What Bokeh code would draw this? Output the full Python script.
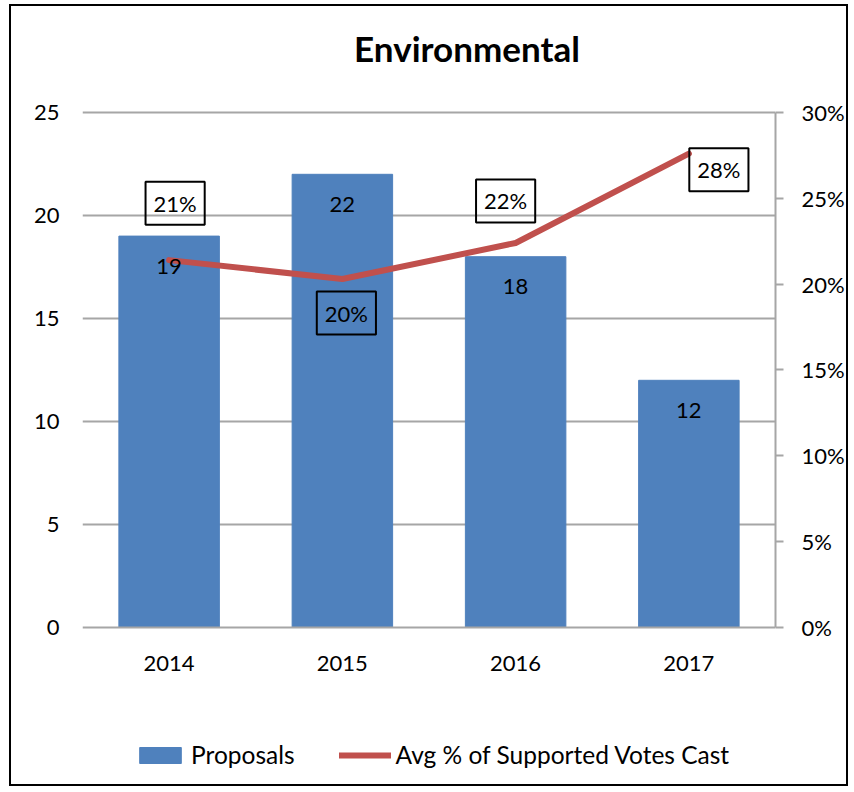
from bokeh.plotting import figure
from bokeh.models import (ColumnDataSource, LinearAxis, Range1d, LabelSet, Label, Legend,
                          LegendItem, FactorRange, NumeralTickFormatter, FixedTicker)
from bokeh.embed import file_html
from bokeh.resources import INLINE
from bokeh.core.properties import value

title_text = "Environmental"
years = ["2014", "2015", "2016", "2017"]
proposals = [19, 22, 18, 12]
avg_support = [0.214, 0.203, 0.224, 0.276]
avg_labels = ["21%", "20%", "22%", "28%"]
left_ticks = [0, 5, 10, 15, 20, 25]
right_ticks = [0, 0.05, 0.10, 0.15, 0.20, 0.25, 0.30]

FONT = "Lato"
BLUE = "#4F81BD"
RED = "#C0504D"
GRID = "#A6A6A6"

src = ColumnDataSource(dict(
    years=years, proposals=proposals, avg=avg_support,
    prop_lbl=[str(v) for v in proposals],
))
label_dx = [6, 4, -10, 30]
label_dy = [57, -34, 42, -16]

# The frame extends above the axis maximum (title) and below zero (legend)
Y_MAX = 25
PCT_MAX = 0.30
Y_HIGH = 29.66
Y_LOW = -7.33
SCALE = PCT_MAX / Y_MAX
TITLE_Y = 28.107

x_range = FactorRange(*years, range_padding=0)
p = figure(width=839, height=782, x_range=x_range,
           y_range=Range1d(Y_LOW, Y_HIGH), output_backend="svg", toolbar_location=None,
           min_border_left=71, min_border_right=75, min_border_top=10,
           min_border_bottom=10)
p.styles = {"border": "2px solid black", "margin-left": "9px", "margin-top": "4px"}
p.outline_line_color = None
p.background_fill_color = "white"

p.extra_y_ranges = {"pct": Range1d(Y_LOW * SCALE, Y_HIGH * SCALE)}

bars = p.vbar(x="years", top="proposals", width=0.58, source=src, color=BLUE)
line = p.line(x="years", y="avg", source=src, y_range_name="pct",
              line_color=RED, line_width=6, line_cap="round", line_join="round")

p.yaxis.ticker = FixedTicker(ticks=left_ticks)
p.yaxis.axis_line_color = None
p.yaxis.major_tick_line_color = None
p.yaxis.major_tick_out = 0
p.yaxis.major_tick_in = 0
p.yaxis.minor_tick_line_color = None
p.yaxis.major_label_standoff = 23
p.yaxis.major_label_text_font = FONT
p.yaxis.major_label_text_font_size = "22px"
p.yaxis.major_label_text_color = "black"

p.xaxis.fixed_location = 0
p.xaxis.axis_line_color = GRID
p.xaxis.axis_line_width = 2
p.xaxis.major_tick_line_color = None
p.xaxis.major_tick_out = 0
p.xaxis.major_tick_in = 0
p.xaxis.minor_tick_line_color = None
p.xaxis.major_label_standoff = 28
p.xaxis.major_label_text_font = FONT
p.xaxis.major_label_text_font_size = "22px"
p.xaxis.major_label_text_color = "black"

raxis = LinearAxis(y_range_name="pct", ticker=FixedTicker(ticks=right_ticks),
                   formatter=NumeralTickFormatter(format="0%"), bounds=(0, PCT_MAX))
raxis.axis_line_color = GRID
raxis.axis_line_width = 2
raxis.major_tick_line_color = GRID
raxis.major_tick_line_width = 2
raxis.major_tick_out = 8
raxis.major_tick_in = 0
raxis.minor_tick_line_color = None
raxis.major_label_standoff = 18
raxis.major_label_text_font = FONT
raxis.major_label_text_font_size = "22px"
raxis.major_label_text_color = "black"
p.add_layout(raxis, "right")

p.xgrid.grid_line_color = None
p.ygrid.grid_line_color = GRID
p.ygrid.grid_line_width = 2
p.ygrid.ticker = FixedTicker(ticks=left_ticks[1:])

# Chart title (x = 2.0 is the middle of the four categories)
title = Label(x=len(years) / 2, y=TITLE_Y, x_offset=38, text=title_text,
              text_align="center", text_baseline="middle", text_font=FONT,
              text_font_size="35px", text_font_style="bold", text_color="black")
p.add_layout(title)

bar_labels = LabelSet(x="years", y="proposals", text="prop_lbl", source=src,
                      y_offset=-30, text_align="center", text_baseline="middle",
                      text_font=value(FONT), text_font_size="22px", text_color="black")
p.add_layout(bar_labels)

# Synthetic categorical coordinate: factor i sits at i + 0.5
for i, (v, txt, dx, dy) in enumerate(zip(avg_support, avg_labels, label_dx, label_dy)):
    lab = Label(x=i + 0.5, y=v, text=txt, y_range_name="pct", x_offset=dx, y_offset=dy,
                text_align="center", text_baseline="middle", text_font=FONT,
                text_font_size="22px", text_color="black",
                border_line_color="black", border_line_width=2,
                background_fill_color=None, padding=8)
    p.add_layout(lab)

legend = Legend(items=[LegendItem(label="Proposals", renderers=[bars]),
                       LegendItem(label="Avg % of Supported Votes Cast", renderers=[line])],
                orientation="horizontal", location=(52, 9),
                label_text_font=FONT, label_text_font_size="24.5px", label_text_color="black",
                glyph_width=52, glyph_height=20, label_standoff=5, spacing=44,
                padding=0, margin=0, border_line_color=None, background_fill_alpha=0)
p.add_layout(legend)

open("out.html", "w").write(file_html(p, INLINE))
